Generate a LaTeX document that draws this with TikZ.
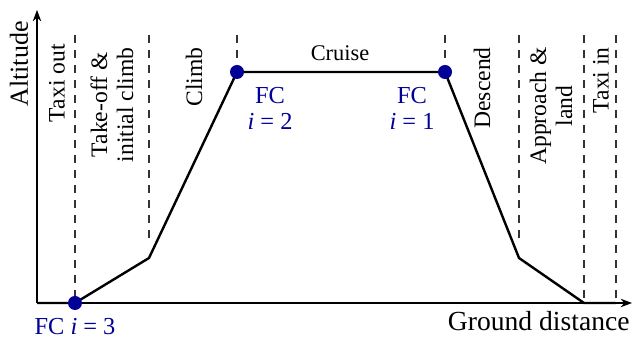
\documentclass[tikz,border=0pt]{standalone}
\usepackage{fontspec}
\setmainfont{Liberation Serif}
\usepackage{tikz}
\usetikzlibrary{arrows.meta,positioning}
\definecolor{fcblue}{RGB}{0,0,150}
\tikzset{
  >=Stealth,
  line cap=round,
  line join=round,
  axis/.style={->, line width=0.6pt},
  profile/.style={line width=1.2pt},
  phase/.style={dash pattern=on 4.2pt off 3.3pt, line width=0.6pt, black!80, line cap=butt},
  phaselabel/.style={rotate=90, anchor=east, align=center, font=\fontsize{11.8}{13}\selectfont, inner sep=1pt},
  fcdot/.style={circle, fill=fcblue, inner sep=0pt, minimum size=7pt},
  fclabel/.style={text=fcblue, align=center, font=\fontsize{12.2}{13}\selectfont, inner sep=1pt},
  axislabel/.style={font=\fontsize{13.8}{14}\selectfont, inner sep=1pt}
}

\begin{document}
\begin{tikzpicture}[x=0.5pt,y=0.5pt]
  \useasboundingbox (-37,-38) rectangle (600,303);

  % axes
  \coordinate (o) at (0,0);
  \coordinate (xend) at (595,0);
  \coordinate (yend) at (0,293);
  \draw[axis] (o) -- (xend);
  \draw[axis] (o) -- (yend);

  % phase borders
  \foreach \x/\y in {38/3, 112/63, 200/231, 408/231, 482/63, 547/3, 579/3}
    \draw[phase] (\x,268) -- (\x,\y);

  % flight profile
  \coordinate (p0) at (0,0);
  \coordinate (p1) at (38,0);
  \coordinate (p2) at (112,45);
  \coordinate (p3) at (200,231);
  \coordinate (p4) at (408,231);
  \coordinate (p5) at (482,45);
  \coordinate (p6) at (547,0);
  \coordinate (p7) at (579,0);
  \draw[profile] (p0) -- (p1) -- (p2) -- (p3) -- (p4) -- (p5) -- (p6) -- (p7);

  % flight cycles
  \node[fcdot] (fc3) at (p1) {};
  \node[fcdot] (fc2) at (p3) {};
  \node[fcdot] (fc1) at (p4) {};
  \node[fclabel, below=3pt of fc3] (fc3txt) {FC \textit{i} = 3};
  \node[fclabel] (fc2txt) at (233,195) {FC\\\textit{i} = 2};
  \node[fclabel] (fc1txt) at (375,195) {FC\\\textit{i} = 1};

  % phase names
  \node[phaselabel] (taxiout) at (20,261) {Taxi out};
  \node[phaselabel] (takeoff) at (75,258) {Take-off \&\\initial climb};
  \node[phaselabel] (climb) at (157,258) {Climb};
  \node[font=\fontsize{11.2}{11.5}\selectfont] (cruise) at (303,250) {Cruise};
  \node[phaselabel] (descend) at (445,258) {Descend};
  \node[phaselabel] (approach) at (514,258) {Approach \&\\land};
  \node[phaselabel] (taxiin) at (564,258) {Taxi in};

  % axis names
  \node[axislabel, rotate=90, font=\fontsize{13}{14}\selectfont] (alt) at (-18,239) {Altitude};
  \node[axislabel, anchor=north east] (gd) at (595,-6) {Ground distance};
\end{tikzpicture}
\end{document}
